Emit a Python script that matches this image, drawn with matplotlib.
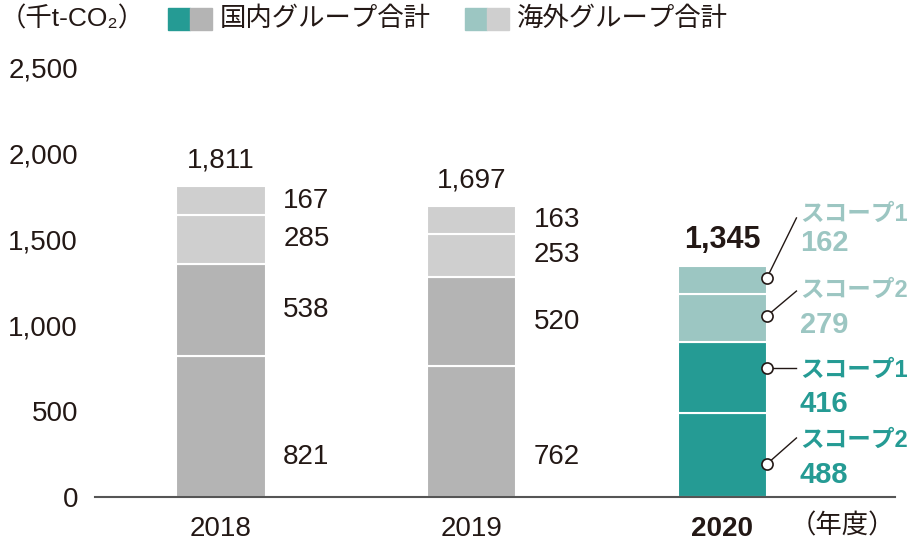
import matplotlib
matplotlib.use('Agg')
import matplotlib.pyplot as plt
from matplotlib.patches import Rectangle
import numpy as np

plt.rcParams['font.family'] = ['Liberation Sans', 'Noto Sans CJK JP', 'DejaVu Sans']

years = ['2018', '2019', '2020']
dom_scope2 = [821, 762, 488]
dom_scope1 = [538, 520, 416]
ovs_scope2 = [285, 253, 279]
ovs_scope1 = [167, 163, 162]
totals = [1811, 1697, 1345]
yticks = [0, 500, 1000, 1500, 2000, 2500]

TEAL = '#259b94'
LTEAL = '#9cc6c2'
GRAY = '#b4b4b4'
LGRAY = '#cfcfcf'
TXT = '#231815'

fig = plt.figure(figsize=(9.2, 5.49), dpi=100)
ax = fig.add_axes([0.103, 0.0947, 0.87, 0.7815])

x = np.arange(len(years))
w = 0.356
dom_colors = [GRAY, GRAY, TEAL]
ovs_colors = [LGRAY, LGRAY, LTEAL]
segs = [dom_scope2, dom_scope1, ovs_scope2, ovs_scope1]
cols = [dom_colors, dom_colors, ovs_colors, ovs_colors]
bottom = np.zeros(3)
centers = []
for vals, c in zip(segs, cols):
    vals = np.array(vals, dtype=float)
    ax.bar(x, vals, w, bottom=bottom, color=c, edgecolor='white', linewidth=1.5)
    centers.append(bottom + vals / 2)
    bottom = bottom + vals

# value labels for 2018 and 2019
for i in range(2):
    for k, vals in enumerate(segs):
        yy = 235 if k == 0 else centers[k][i]
        ax.text(x[i] + w / 2 + 0.07, yy, str(vals[i]), ha='left', va='center',
                fontsize=20, color=TXT)
    ax.text(x[i], totals[i] + 150, f'{totals[i]:,}', ha='center', va='center',
            fontsize=20, color=TXT)

ax.text(x[2], totals[2] + 155, f'{totals[2]:,}', ha='center', va='center',
        fontsize=22, color=TXT, fontweight='bold')

# 2020 callouts
names = ['スコープ2', 'スコープ1', 'スコープ2', 'スコープ1']
ncols = [TEAL, TEAL, LTEAL, LTEAL]
dot_y = [192, 752, 1055, 1276]
end_y = [344, 752, 1200, 1626]
name_y = [332, 740, 1206, 1649]
val_y = [128, 542, 1002, 1480]
for k in range(4):
    x0 = x[2] + w / 2
    ax.plot([x0, 2.296], [dot_y[k], end_y[k]], color=TXT, lw=1, zorder=3)
    ax.plot([x0], [dot_y[k]], 'o', ms=8, mfc='white', mec=TXT, mew=1.2, zorder=4)
    ax.text(2.31, name_y[k], names[k], ha='left', va='center', fontsize=17,
            color=ncols[k], fontweight='bold')
    ax.text(2.31, val_y[k], str(segs[k][2]), ha='left', va='center', fontsize=21,
            color=ncols[k], fontweight='bold')

ax.set_xlim(-0.504, 2.69)
ax.set_ylim(0, 2500)
ax.set_yticks(yticks)
ax.set_yticklabels([f'{v:,}' for v in yticks])
ax.set_xticks(x)
ax.set_xticklabels(years)
ax.get_xticklabels()[2].set_fontweight('bold')
ax.tick_params(axis='both', length=0, labelsize=20, labelcolor=TXT)
ax.tick_params(axis='y', pad=12)
ax.tick_params(axis='x', pad=14)
for s in ['top', 'right', 'left']:
    ax.spines[s].set_visible(False)
ax.spines['bottom'].set_color('#555555')
ax.spines['bottom'].set_linewidth(1.5)
ax.text(2.69, -170, '（年度）', ha='right', va='center', fontsize=19, color=TXT,
        clip_on=False)

# legend / unit
fig.text(0.0, 0.965, '（千t-CO₂）', ha='left', va='center', fontsize=19, color=TXT)
lg = [(168, TEAL, GRAY, '国内グループ合計'), (465, LTEAL, LGRAY, '海外グループ合計')]
for px, c1, c2, lab in lg:
    fig.add_artist(Rectangle((px / 920, 0.945), 22 / 920, 0.040, color=c1,
                             transform=fig.transFigure))
    fig.add_artist(Rectangle(((px + 22) / 920, 0.945), 22 / 920, 0.040, color=c2,
                             transform=fig.transFigure))
    fig.text((px + 52) / 920, 0.965, lab, ha='left', va='center', fontsize=19, color=TXT)

fig.savefig('out.png', dpi=100)
